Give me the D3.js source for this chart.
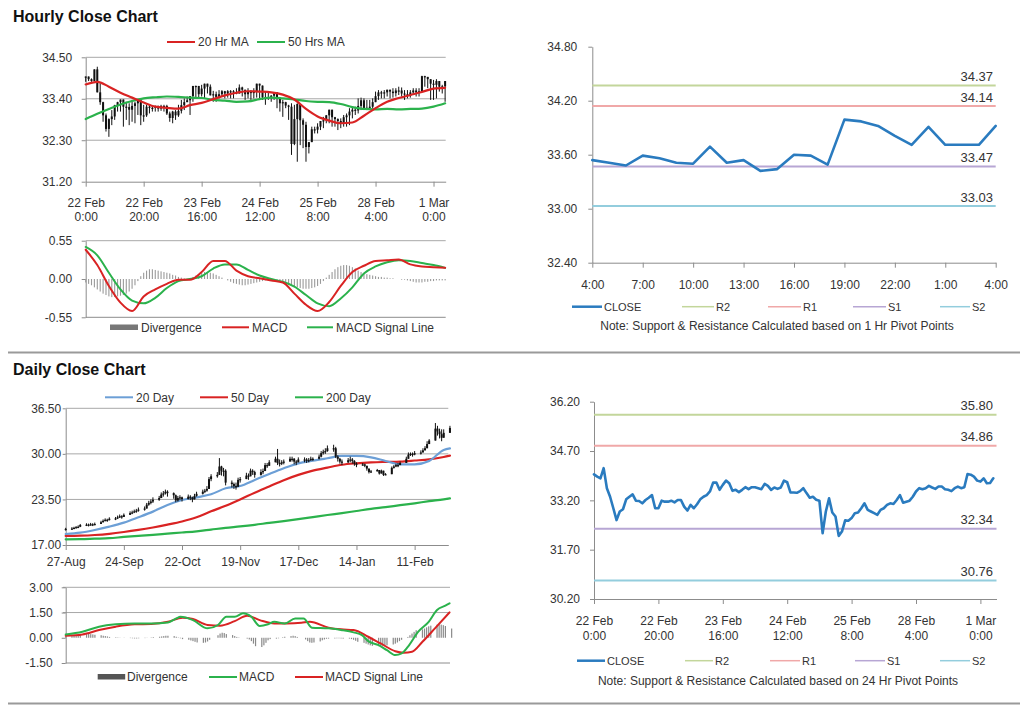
<!DOCTYPE html>
<html><head><meta charset="utf-8">
<script src="https://cdn.jsdelivr.net/npm/d3@7"></script>
<style>body{margin:0;background:#fff;}</style>
</head><body><script>
// ---------------- DATA ----------------
// Hourly (22 Feb 0:00 -> 1 Mar 4:00), index = trading hour
const hourlyTickIdx = [0,20,40,60,80,100,120];
const hourlyTickLabels = [["22 Feb","0:00"],["22 Feb","20:00"],["23 Feb","16:00"],["24 Feb","12:00"],["25 Feb","8:00"],["28 Feb","4:00"],["1 Mar","0:00"]];
const hourlyClose = [33.99,33.92,33.87,34.18,33.57,33.31,32.96,32.60,32.86,32.93,
33.23,33.31,33.38,33.19,33.18,33.11,33.21,33.28,33.36,32.96,
32.96,33.19,33.16,33.16,33.19,33.14,33.21,33.21,33.01,32.89,
33.06,32.96,33.08,33.23,33.31,33.36,33.47,33.74,33.74,33.52,
33.67,33.80,33.72,33.49,33.52,33.45,33.52,33.60,33.54,33.60,
33.60,33.57,33.54,33.70,33.64,33.52,33.59,33.55,33.59,33.80,
33.75,33.44,33.44,33.43,33.48,33.57,33.42,33.28,33.31,33.22,
33.19,32.20,32.86,33.26,32.83,32.71,32.12,32.25,32.59,32.58,
32.66,32.81,32.83,32.96,33.11,32.91,32.86,32.81,32.76,32.91,
32.96,33.06,33.11,33.09,33.21,33.36,33.13,33.16,33.19,33.31,
33.47,33.57,33.54,33.57,33.64,33.59,33.55,33.62,33.62,33.54,
33.52,33.48,33.57,33.62,33.57,33.60,34.00,33.98,33.92,33.80,
33.77,33.87,33.72,33.73,33.87];
const hourlyHigh = [33.96,33.96,33.94,34.07,34.25,33.81,33.32,33.01,32.88,33.10,
33.24,33.32,33.32,33.32,33.32,33.28,33.37,33.32,33.32,33.32,
33.24,33.24,33.24,33.22,33.22,33.22,33.24,33.24,33.24,33.06,
33.08,33.10,33.24,33.37,33.41,33.46,33.46,33.72,33.75,33.72,
33.77,33.63,33.78,33.78,33.61,33.59,33.63,33.63,33.61,33.63,
33.63,33.63,33.68,33.78,33.72,33.63,33.68,33.63,33.68,33.72,
33.77,33.63,33.59,33.59,33.50,33.54,33.46,33.41,33.37,33.32,
33.24,33.28,33.24,33.28,33.24,32.88,32.79,32.22,32.66,32.66,
32.75,32.75,32.92,32.97,33.01,32.97,32.92,32.88,32.88,32.97,
33.01,33.15,33.16,33.19,33.41,33.43,33.41,33.37,33.37,33.41,
33.59,33.63,33.61,33.63,33.63,33.61,33.68,33.68,33.72,33.70,
33.63,33.63,33.63,33.68,33.68,33.68,34.01,34.01,33.96,33.92,
33.90,33.92,33.87,33.77,33.72];
const hourlyLow = [33.85,33.87,33.85,33.90,33.68,33.24,32.79,32.53,32.39,32.70,
32.84,33.06,33.06,32.66,32.84,32.70,32.79,32.75,32.97,32.70,
32.79,32.92,33.01,33.06,33.06,33.06,33.08,33.06,32.97,32.79,
32.75,32.84,32.92,33.01,33.10,33.32,32.97,33.32,33.41,33.41,
33.46,33.41,33.54,33.50,33.32,33.32,33.41,33.46,33.41,33.43,
33.41,33.41,33.52,33.54,33.46,33.37,33.41,33.37,33.41,33.43,
33.41,33.37,33.24,33.37,33.32,33.37,33.15,33.06,32.92,33.15,
32.84,31.91,32.17,31.73,32.17,32.09,31.73,31.95,32.44,32.48,
32.48,32.57,32.62,32.75,32.75,32.66,32.66,32.57,32.62,32.66,
32.66,32.70,32.88,32.97,33.01,33.10,33.10,33.10,33.15,33.15,
33.32,33.37,33.41,33.41,33.46,33.41,33.43,33.46,33.50,33.46,
33.37,33.41,33.43,33.50,33.46,33.46,33.68,33.72,33.68,33.37,
33.37,33.41,33.59,33.54,33.32];
const hourlySampleIdx = [0,4,8,12,16,20,24,28,32,36,40,44,48,52,56,60,64,68,72,76,80,84,88,92,96,100,104,108,112,116,120,124];
const ma20Hr = [33.78,33.85,33.72,33.56,33.43,33.30,33.19,33.16,33.14,33.23,33.29,33.39,33.49,33.56,33.60,33.59,33.57,33.51,33.38,33.13,32.93,32.82,32.75,32.77,32.95,33.15,33.32,33.42,33.50,33.58,33.67,33.69];
const ma50Hr = [32.86,33.00,33.13,33.25,33.34,33.41,33.44,33.46,33.45,33.43,33.42,33.37,33.35,33.32,33.33,33.39,33.43,33.41,33.38,33.34,33.32,33.31,33.26,33.18,33.13,33.12,33.13,33.12,33.13,33.14,33.19,33.28];
const hourlyMacd = [0.42,0.20,-0.10,-0.34,-0.46,-0.25,-0.15,-0.07,-0.01,-0.01,0.10,0.26,0.26,0.12,0.04,0.01,-0.02,-0.05,-0.21,-0.37,-0.46,-0.33,-0.10,0.10,0.19,0.26,0.27,0.28,0.21,0.18,0.17,0.16];
const hourlySignal = [0.46,0.34,0.09,-0.15,-0.31,-0.35,-0.27,-0.13,-0.03,0.00,0.04,0.15,0.21,0.21,0.13,0.05,0.00,-0.04,-0.11,-0.23,-0.35,-0.39,-0.28,-0.12,0.08,0.18,0.24,0.27,0.26,0.23,0.20,0.16];
const hourlyDivergence = [-0.05,-0.07,-0.09,-0.12,-0.15,-0.18,-0.21,-0.23,-0.25,-0.26,
-0.26,-0.25,-0.24,-0.23,-0.21,-0.18,-0.14,-0.09,-0.03,0.04,
0.09,0.12,0.14,0.14,0.13,0.12,0.11,0.10,0.09,0.08,
0.06,0.05,0.03,0.02,0.01,0.00,0.01,0.03,0.05,0.07,
0.09,0.10,0.10,0.09,0.08,0.06,0.04,0.02,0.00,-0.02,
-0.04,-0.06,-0.07,-0.08,-0.09,-0.09,-0.08,-0.07,-0.06,-0.05,
-0.04,-0.03,-0.02,-0.02,-0.01,-0.01,-0.02,-0.03,-0.04,-0.06,
-0.08,-0.10,-0.11,-0.12,-0.13,-0.14,-0.14,-0.14,-0.13,-0.12,
-0.10,-0.07,-0.03,0.02,0.06,0.10,0.14,0.17,0.19,0.20,
0.20,0.19,0.17,0.15,0.12,0.10,0.08,0.07,0.06,0.05,
0.04,0.03,0.03,0.02,0.02,0.01,0.01,0.00,0.00,-0.01,
-0.01,-0.02,-0.03,-0.04,-0.05,-0.05,-0.05,-0.04,-0.04,-0.03,
-0.03,-0.02,-0.02,-0.02,-0.02];

// 1 Hr pivot panel (28 Feb 4:00 -> 1 Mar 4:00)
const pivot1hLabels = ["4:00","7:00","10:00","13:00","16:00","19:00","22:00","1:00","4:00"];
const pivot1hTickIdx = [0,3,6,9,12,15,18,21,24];
const pivot1hClose = [33.54,33.51,33.48,33.59,33.56,33.51,33.50,33.69,33.51,33.54,33.42,33.44,33.60,33.59,33.49,33.99,33.97,33.92,33.81,33.71,33.91,33.71,33.71,33.71,33.92];
const levelNames = ["R2","R1","S1","S2"];
const levelColors = ["#c3d69b","#f0a8a8","#b7a6d4","#93cddd"];
const levels1h = [34.37,34.14,33.47,33.03];
const levels24h = [35.80,34.86,32.34,30.76];

// Daily (27-Aug -> 28-Feb), one value per weekday
const dailyTickDays = [0,28,56,84,112,140,168];
const dailyTickLabels = ["27-Aug","24-Sep","22-Oct","19-Nov","17-Dec","14-Jan","11-Feb"];
const dailyClose = [19.30,
19.35,19.45,19.55,19.60,19.85, 19.90,19.85,19.95,19.90,20.00, 20.25,20.45,20.60,20.55,20.75,
20.80,20.95,21.10,21.00,21.30, 21.55,21.65,21.80,21.90,22.05, 22.20,22.75,23.00,23.20,23.45,
23.70,24.20,24.35,24.60,24.40, 24.10,23.35,23.70,23.80,23.55, 23.90,23.75,23.50,24.00,24.30,
24.60,24.75,25.00,26.40,26.80, 27.00,28.20,27.60,27.60,25.90, 25.70,25.40,25.30,26.30,26.40,
26.90,26.80,27.60,27.40,27.00, 27.40,27.55,28.40,28.30,28.80, 29.30,28.70,28.60,28.80,28.90,
29.30,29.30,28.90,28.80,29.20, 29.20,29.00,29.10,29.30,29.30, 29.60,30.10,30.30,30.40,30.80,
30.80,29.60,29.30,28.90,28.80, 29.10,29.20,29.00,28.60,28.40, 28.50,28.30,27.90,27.40,27.50,
27.70,27.20,27.60,27.00,27.10, 28.00,28.20,28.40,28.40,28.70, 29.30,29.90,30.00,29.90,30.10,
30.20,30.50,30.80,31.40,31.90, 33.60,33.20,32.80,32.30,33.00, 33.70];
const dailyHigh = [19.45,
19.55,19.60,19.70,19.80,20.00, 20.10,20.05,20.15,20.10,20.20, 20.45,20.65,20.80,20.75,20.95,
21.00,21.20,21.35,21.25,21.50, 21.80,21.90,22.05,22.15,22.35, 22.50,23.00,23.30,23.50,23.80,
24.00,24.50,24.70,24.90,24.80, 24.50,24.20,24.00,24.10,23.90, 24.20,24.10,23.90,24.30,24.60,
24.90,25.00,25.40,26.70,27.10, 27.40,29.40,28.30,28.00,27.80, 26.20,25.90,25.90,26.60,26.70,
27.30,27.20,27.90,27.80,27.60, 27.80,27.90,28.70,28.70,29.10, 29.60,30.70,29.20,29.10,29.20,
29.60,29.60,29.40,29.10,29.50, 29.50,29.40,29.40,29.60,29.50, 29.90,30.40,30.60,30.80,31.20,
31.30,31.00,29.80,29.40,29.20, 29.40,29.60,29.40,29.10,28.80, 28.70,28.60,28.20,27.70,27.70,
27.85,27.35,27.75,27.15,27.25, 28.20,28.40,28.60,28.70,28.90, 29.60,30.20,30.20,30.20,30.40,
30.50,30.80,31.10,31.80,32.10, 34.40,34.00,33.60,33.50,33.50, 34.00];
const dailyLow = [19.05,
19.15,19.25,19.35,19.40,19.55, 19.70,19.65,19.75,19.70,19.80, 20.00,20.20,20.35,20.30,20.50,
20.55,20.70,20.85,20.75,21.00, 21.30,21.40,21.55,21.60,21.75, 21.90,22.30,22.60,22.80,23.00,
23.30,23.70,23.90,24.20,23.90, 23.60,23.10,23.20,23.40,23.20, 23.50,23.40,23.10,23.60,23.90,
24.20,24.40,24.60,25.20,26.10, 26.60,27.00,26.90,26.80,25.50, 25.20,25.00,24.90,25.60,25.90,
26.40,26.30,26.90,27.00,26.60, 26.90,27.10,27.70,28.00,28.30, 28.80,28.40,28.20,28.40,28.50,
28.90,28.90,28.50,28.40,28.80, 28.80,28.70,28.80,29.00,29.00, 29.20,29.50,29.90,30.00,30.30,
30.30,29.40,28.90,28.60,28.40, 28.70,28.80,28.60,28.30,28.10, 28.30,28.10,27.60,27.20,27.30,
27.55,27.05,27.45,26.85,26.95, 27.70,27.90,28.10,28.10,28.40, 28.90,29.50,29.70,29.60,29.80,
29.90,30.20,30.50,31.00,31.50, 32.50,32.60,32.20,31.80,32.50, 33.20];
const dailyMaDay = [0,7,14,21,28,35,42,49,56,63,70,77,84,91,98,105,112,119,126,133,140,147,154,161,168,175,182,185];
const ma20Day = [18.57,18.76,19.14,19.62,20.19,20.95,21.76,22.71,23.42,23.80,24.23,25.09,25.42,26.28,27.13,27.94,28.65,29.03,29.37,29.70,29.70,29.51,28.99,28.51,28.51,28.99,30.56,30.79];
const ma50Day = [18.29,18.33,18.43,18.60,18.85,19.15,19.50,19.90,20.35,20.95,21.80,22.60,23.50,24.45,25.35,26.25,27.00,27.60,28.04,28.45,28.65,28.78,28.85,28.90,29.05,29.22,29.55,29.75];
const ma200Day = [17.81,17.83,17.90,17.97,18.15,18.30,18.45,18.62,18.78,18.95,19.20,19.45,19.65,19.88,20.15,20.40,20.68,20.98,21.28,21.55,21.85,22.15,22.40,22.68,22.95,23.25,23.52,23.66];
const dailyMacdDay = [0,8,16,24,33,41,49,53,55,61,68,73,77,81,85,89,93,97,100,105,110,114,118,126,132,138,142,145,150,154,158,161,164,169,174,178,182,184];
const dailyMacd = [0.20,0.36,0.66,0.80,0.85,0.85,0.91,1.15,1.25,1.05,0.56,0.76,1.25,1.25,1.45,1.25,0.70,0.80,0.95,0.85,1.15,1.15,0.60,0.56,0.46,0.32,0.16,-0.20,-0.44,-0.74,-1.03,-0.93,-0.54,0.36,0.95,1.65,1.91,2.05];
const dailySignalDay = [0,8,16,24,33,41,49,56,61,68,74,81,87,93,100,106,113,117,126,132,138,145,151,158,162,166,171,177,184];
const dailySignal = [0.12,0.20,0.46,0.66,0.80,0.82,0.95,1.19,1.11,0.76,0.72,0.99,1.31,1.05,0.85,0.85,0.89,0.95,0.60,0.50,0.46,0.06,-0.34,-0.80,-0.89,-0.83,-0.24,0.56,1.51];
const dailyDivergence = [0.08,
0.10,0.12,0.15,0.18,0.20, 0.22,0.24,0.22,0.20,0.18, 0.15,0.12,0.10,0.08,0.05,
0.03,0.02,0.01,0.00,-0.01, -0.02,-0.03,-0.04,-0.04,-0.03, -0.02,-0.01,0.00,0.02,0.04,
0.06,0.08,0.10,0.12,0.12, 0.10,0.06,0.02,-0.03,-0.08, -0.12,-0.16,-0.20,-0.24,-0.28,
-0.30,-0.28,-0.22,-0.12,0.00, 0.15,0.25,0.30,0.28,0.22, 0.16,0.10,0.05,0.02,0.00,
-0.05,-0.10,-0.20,-0.35,-0.50, -0.55,-0.45,-0.30,-0.15,-0.08, -0.05,-0.03,0.00,0.03,0.06,
0.10,0.12,0.10,0.05,0.00, -0.10,-0.20,-0.28,-0.30,-0.28, -0.22,-0.15,-0.10,-0.06,-0.05,
-0.04,-0.03,-0.03,-0.04,-0.05, -0.05,-0.08,-0.12,-0.18,-0.24, -0.30,-0.35,-0.40,-0.45,-0.48,
-0.50,-0.52,-0.50,-0.48,-0.45, -0.40,-0.35,-0.28,-0.20,-0.12, 0.05,0.15,0.25,0.35,0.45,
0.50,0.55,0.62,0.68,0.72, 0.78,0.80,0.78,0.75,0.70, 0.55];

// ---------------- DRAWING ----------------
const FONT = 'Arial, "Liberation Sans", sans-serif';
const TXT = '#333', GRID = '#a8a8a8', AXIS = '#8c8c8c';
const RED = '#d92323', GREEN = '#2bb24c', BLUE = '#2a7bbf', LBLUE = '#6c9fd6', DIVC = '#9a9a9a';
const loc = d3.formatLocale({decimal:'.', thousands:',', grouping:[3], currency:['$',''], minus:'-'});
const f2 = loc.format('.2f');

const svg = d3.select('body').append('svg').attr('width',1024).attr('height',706)
  .attr('font-family',FONT);
svg.append('rect').attr('width',1024).attr('height',706).attr('fill','#fff');

function txt(x,y,s,opt={}){
  return svg.append('text').attr('x',x).attr('y',y).attr('font-size',opt.fs||12)
    .attr('font-weight',opt.fw||'normal').attr('fill',opt.fill||TXT)
    .attr('text-anchor',opt.anchor||'start').text(s);
}
function styleAxis(g, fs){
  g.attr('font-family',FONT).attr('font-size',fs);
  g.select('.domain').attr('stroke',AXIS);
  g.selectAll('.tick line').attr('stroke',AXIS);
  g.selectAll('.tick text').attr('fill',TXT);
}
function leftAxis(y, x0, ticks, size, pad, fs){
  svg.append('g').attr('transform',`translate(${x0},0)`)
    .call(d3.axisLeft(y).tickValues(ticks).tickFormat(f2).tickSize(size).tickSizeOuter(0).tickPadding(pad))
    .call(g=>styleAxis(g,fs));
}
function grid(y, x0, x1, ticks){
  svg.append('g').selectAll('line').data(ticks).join('line')
    .attr('x1',x0).attr('x2',x1).attr('y1',d=>y(d)).attr('y2',d=>y(d))
    .attr('stroke',GRID).attr('stroke-width',1);
}
function bottomAxis2(x, y0, idx, labels, b1, b2, fs){
  const g = svg.append('g').attr('transform',`translate(0,${y0})`)
    .call(d3.axisBottom(x).tickValues(idx).tickSize(5).tickSizeOuter(0).tickFormat(''))
    .call(g=>styleAxis(g,fs));
  g.selectAll('.tick').each(function(d,i){
    const t = d3.select(this).append('text').attr('fill',TXT).attr('text-anchor','middle');
    t.append('tspan').attr('x',0).attr('y',b1).text(labels[i][0]);
    t.append('tspan').attr('x',0).attr('y',b2).text(labels[i][1]);
  });
}
function bottomAxis1(x, y0, vals, labels, b1, fs){
  svg.append('g').attr('transform',`translate(0,${y0})`)
    .call(d3.axisBottom(x).tickValues(vals).tickSize(5).tickSizeOuter(0).tickFormat((d,i)=>labels[i]))
    .call(g=>{styleAxis(g,fs); g.selectAll('.tick text').attr('y',b1).attr('dy',null);});
}
function path(pts, x, y, color, w, curve){
  svg.append('path').datum(pts)
    .attr('d', d3.line().x(d=>x(d[0])).y(d=>y(d[1])).curve(curve||d3.curveLinear))
    .attr('fill','none').attr('stroke',color).attr('stroke-width',w)
    .attr('stroke-linejoin','round').attr('stroke-linecap','round');
}
function candles(xv, x, y, hi, lo, cl, bw){
  const g = svg.append('g');
  cl.forEach((c,i)=>{
    const o = i>0 ? cl[i-1] : c;
    const h = Math.max(hi[i],o,c), l = Math.min(lo[i],o,c);
    const xx = x(xv[i]);
    g.append('line').attr('x1',xx).attr('x2',xx).attr('y1',y(h)).attr('y2',y(l))
      .attr('stroke','#111').attr('stroke-width',1);
    const t = y(Math.max(o,c)), b = y(Math.min(o,c));
    g.append('rect').attr('x',xx-bw/2).attr('y',t).attr('width',bw).attr('height',Math.max(b-t,1.2)).attr('fill','#111');
  });
}
function bars(xv, x, y, vals, w, color){
  svg.append('g').selectAll('rect').data(vals).join('rect')
    .attr('x',(d,i)=>x(xv[i])-w/2).attr('width',w)
    .attr('y',d=>y(Math.max(0,d))).attr('height',d=>Math.abs(y(d)-y(0)))
    .attr('fill',color);
}
function legLine(x0,x1,y,color,w){
  svg.append('line').attr('x1',x0).attr('x2',x1).attr('y1',y).attr('y2',y).attr('stroke',color).attr('stroke-width',w);
}

// Titles and separators
txt(13,22,'Hourly Close Chart',{fs:16,fw:'bold',fill:'#111'});
txt(13,375,'Daily Close Chart',{fs:16,fw:'bold',fill:'#111'});
svg.append('line').attr('x1',8).attr('x2',1020).attr('y1',352.5).attr('y2',352.5).attr('stroke','#9a9a9a').attr('stroke-width',2);
svg.append('line').attr('x1',8).attr('x2',1020).attr('y1',703.5).attr('y2',703.5).attr('stroke','#9a9a9a').attr('stroke-width',2);

// ===== Panel 1: hourly candles =====
const hIdx = d3.range(hourlyClose.length);
const x1 = d3.scaleLinear().domain([0,124.2]).range([85.7,445.7]);
const y1 = d3.scaleLinear().domain([31.2,34.5]).range([181.7,57.3]);
grid(y1, 85.7, 445.7, [34.5,33.4,32.3]);
leftAxis(y1, 85.7, [34.5,33.4,32.3,31.2], 4, 9.5, 12);
bottomAxis2(x1, 181.7, hourlyTickIdx, hourlyTickLabels, 25.3, 39, 12);
candles(hIdx, x1, y1, hourlyHigh, hourlyLow, hourlyClose, 2);
path(hourlySampleIdx.map((d,i)=>[d,ma50Hr[i]]), x1, y1, GREEN, 2.2, d3.curveMonotoneX);
path(hourlySampleIdx.map((d,i)=>[d,ma20Hr[i]]), x1, y1, RED, 2.2, d3.curveMonotoneX);
legLine(167,195,42,RED,2); txt(198,46,'20 Hr MA');
legLine(257,285,42,GREEN,2); txt(288,46,'50 Hrs MA');

// ===== Panel 2: hourly MACD =====
const y2 = d3.scaleLinear().domain([-0.55,0.55]).range([317.3,240.7]);
grid(y2, 85.7, 445.7, [0.55]);
leftAxis(y2, 85.7, [0.55,0,-0.55], 4, 9.5, 12);
svg.append('line').attr('x1',85.7).attr('x2',445.7).attr('y1',317.3).attr('y2',317.3).attr('stroke',AXIS);
bars(hIdx, x1, y2, hourlyDivergence, 1.1, DIVC);
path(hourlySampleIdx.map((d,i)=>[d,hourlySignal[i]]), x1, y2, GREEN, 2, d3.curveMonotoneX);
path(hourlySampleIdx.map((d,i)=>[d,hourlyMacd[i]]), x1, y2, RED, 2, d3.curveMonotoneX);
svg.append('rect').attr('x',110).attr('y',324.5).attr('width',28).attr('height',5.5).attr('fill','#777');
txt(141,331.5,'Divergence');
legLine(222,249,327.3,RED,2); txt(252,331.5,'MACD');
legLine(307,333,327.3,GREEN,2); txt(336,331.5,'MACD  Signal Line');

// ===== Panel 3: 1 Hr pivot =====
const pIdx = d3.range(pivot1hClose.length);
const x3 = d3.scaleLinear().domain([0,24]).range([592.3,995.7]);
const y3 = d3.scaleLinear().domain([32.4,34.8]).range([262.7,46.7]);
leftAxis(y3, 592.3, [34.8,34.2,33.6,33.0,32.4], 4, 11, 12);
bottomAxis1(x3, 262.7, pivot1hTickIdx, pivot1hLabels, 26.6, 12);
levels1h.forEach((v,i)=>{
  svg.append('line').attr('x1',x3(0)).attr('x2',x3(24)).attr('y1',y3(v)).attr('y2',y3(v)).attr('stroke',levelColors[i]).attr('stroke-width',2);
  txt(993,y3(v)-4,f2(v),{fs:13,anchor:'end'});
});
path(pIdx.map(i=>[i,pivot1hClose[i]]), x3, y3, BLUE, 2.6);
function pivotLegend(y, items){
  items.forEach(it=>{ legLine(it[0],it[1],y,it[2],it[3]); txt(it[1]+2,y+4,it[4],{fs:11}); });
}
pivotLegend(306.7, [[572,602,BLUE,2.5,'CLOSE'],[682,714,levelColors[0],1.5,'R2'],[768,801,levelColors[1],1.5,'R1'],[853,886,levelColors[2],1.5,'S1'],[940,970,levelColors[3],1.5,'S2']]);
txt(777,330,'Note: Support & Resistance Calculated based on 1 Hr Pivot Points',{fs:12,anchor:'middle'});

// ===== Panel 6: 24 Hr pivot (hourly close) =====
const x6 = d3.scaleLinear().domain([0,125]).range([594,996.5]);
const y6 = d3.scaleLinear().domain([30.2,36.2]).range([599,401.7]);
leftAxis(y6, 594, [36.2,34.7,33.2,31.7,30.2], 4, 10, 12);
bottomAxis2(x6, 599, hourlyTickIdx, hourlyTickLabels, 25.5, 40.5, 12);
levels24h.forEach((v,i)=>{
  svg.append('line').attr('x1',x6(0)).attr('x2',996.5).attr('y1',y6(v)).attr('y2',y6(v)).attr('stroke',levelColors[i]).attr('stroke-width',2);
  txt(993,y6(v)-4.5,f2(v),{fs:13,anchor:'end'});
});
path(hIdx.map(i=>[i,hourlyClose[i]]), x6, y6, BLUE, 2.6);
pivotLegend(660.7, [[577,605,BLUE,2.5,'CLOSE'],[685,713,levelColors[0],1.5,'R2'],[770,800,levelColors[1],1.5,'R1'],[855,885,levelColors[2],1.5,'S1'],[940,970,levelColors[3],1.5,'S2']]);
txt(778,684.5,'Note: Support & Resistance Calculated based on 24 Hr Pivot Points',{fs:12,anchor:'middle'});

// ===== Panel 4: daily candles =====
const dStart = new Date(2010,7,27);
const dayDate = d => d3.timeDay.offset(dStart, d);
const dailyDates = d3.timeDay.range(dStart, new Date(2011,2,1)).filter(d=>d.getDay()%6!==0);
const x4 = d3.scaleTime().domain([dStart, d3.timeHour.offset(dStart, Math.round(184.2*24))]).range([65.7,448.3]);
const y4 = d3.scaleLinear().domain([17,36.5]).range([545,408.3]);
grid(y4, 65.7, 448.3, [36.5,30,23.5]);
leftAxis(y4, 65.7, [36.5,30,23.5,17], 3, 1.5, 12);
bottomAxis1(x4, 545, dailyTickDays.map(dayDate), dailyTickLabels, 21.3, 12);
path(dailyMaDay.map((d,i)=>[dayDate(d),ma200Day[i]]), x4, y4, GREEN, 2.2, d3.curveMonotoneX);
path(dailyMaDay.map((d,i)=>[dayDate(d),ma50Day[i]]), x4, y4, RED, 2.2, d3.curveMonotoneX);
path(dailyMaDay.map((d,i)=>[dayDate(d),ma20Day[i]]), x4, y4, LBLUE, 2.2, d3.curveMonotoneX);
candles(dailyDates, x4, y4, dailyHigh, dailyLow, dailyClose, 2);
legLine(105,133,397.3,LBLUE,2); txt(136,401.5,'20 Day');
legLine(200,228,397.3,RED,2); txt(231,401.5,'50 Day');
legLine(295,323,397.3,GREEN,2); txt(326,401.5,'200 Day');

// ===== Panel 5: daily MACD =====
const x5 = d3.scaleTime().domain(x4.domain()).range([65.7,450]);
const y5 = d3.scaleLinear().domain([-1.5,3]).range([663,587.3]);
grid(y5, 63, 450, [3,1.5]);
leftAxis(y5, 65.7, [3,1.5,0,-1.5], 4, 9, 12);
svg.append('line').attr('x1',65.7).attr('x2',450).attr('y1',663).attr('y2',663).attr('stroke',AXIS);
bars(dailyDates, x5, y5, dailyDivergence, 1.2, '#8a8a8a');
path(dailySignalDay.map((d,i)=>[dayDate(d),dailySignal[i]]), x5, y5, RED, 2, d3.curveMonotoneX);
path(dailyMacdDay.map((d,i)=>[dayDate(d),dailyMacd[i]]), x5, y5, GREEN, 2, d3.curveMonotoneX);
svg.append('rect').attr('x',97.7).attr('y',674).attr('width',27.5).attr('height',5.5).attr('fill','#555');
txt(127,681,'Divergence');
legLine(209,237,677,GREEN,2); txt(239,681,'MACD');
legLine(295,323,677,RED,2); txt(325,681,'MACD  Signal Line');
</script></body></html>
